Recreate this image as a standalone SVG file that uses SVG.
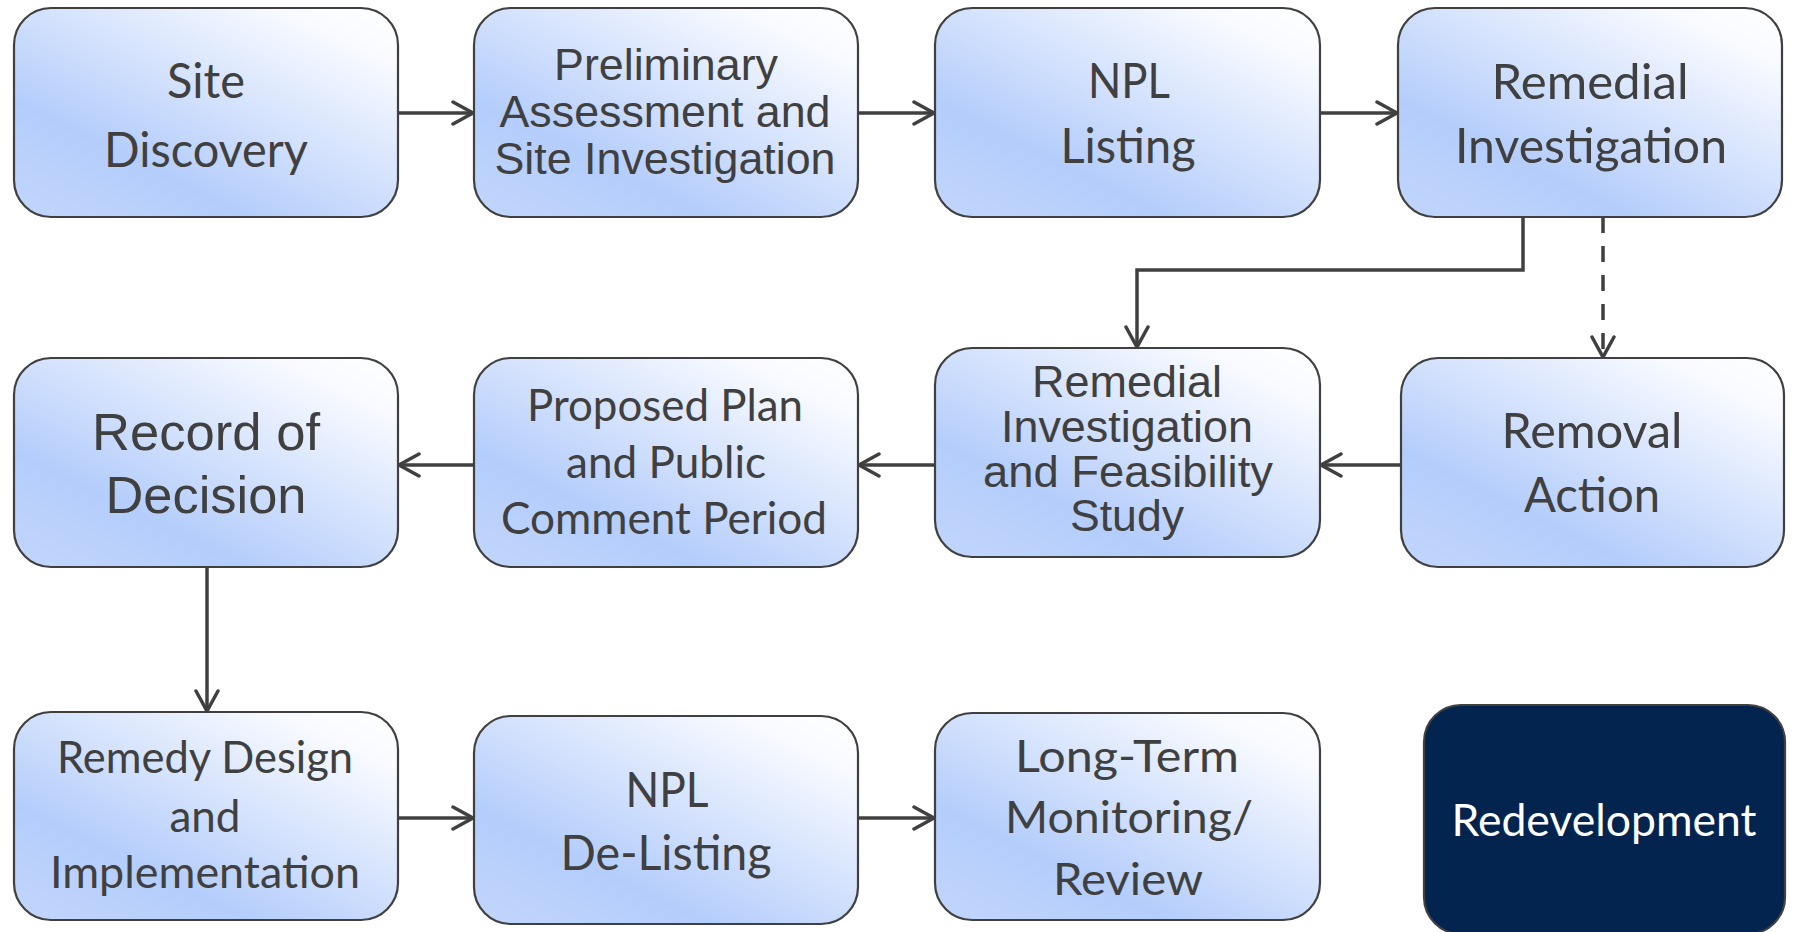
<svg xmlns="http://www.w3.org/2000/svg" width="1793" height="932" viewBox="0 0 1793 932">
  <defs>
    <linearGradient id="boxFill" x1="0.025" y1="1.025" x2="0.982" y2="-0.019">
      <stop offset="0" stop-color="#c2d6fc"/>
      <stop offset="0.29" stop-color="#b4cdfb"/>
      <stop offset="0.55" stop-color="#d4e2fd"/>
      <stop offset="0.85" stop-color="#f8faff"/>
      <stop offset="1" stop-color="#ffffff"/>
    </linearGradient>
    <marker id="chevron" markerUnits="userSpaceOnUse" markerWidth="26" markerHeight="30" viewBox="-2 -15 26 30" refX="20" refY="0" orient="auto">
      <path d="M0,-11 L20,0 L0,11" fill="none" stroke="#404040" stroke-width="3.5" stroke-linecap="round" stroke-linejoin="miter"/>
    </marker>
    <style>
      .box { fill: url(#boxFill); stroke: #404040; stroke-width: 2.2; }
      .dark { fill: #02244f; stroke: #404040; stroke-width: 2.2; }
      .cal { font-family: Lato, "Open Sans", sans-serif; fill: #404040; text-anchor: middle; }
      .ari { font-family: "Liberation Sans", Arial, sans-serif; fill: #404040; text-anchor: middle; }
      .light { fill: #ffffff; }
      .link { fill: none; stroke: #404040; stroke-width: 3.5; marker-end: url(#chevron); }
      .dash { stroke-dasharray: 16 13; }
    </style>
  </defs>

  <rect width="1793" height="932" fill="#ffffff"/>

  <!-- connectors -->
  <g id="connectors">
    <path class="link" d="M398,113 H473"/>
    <path class="link" d="M858,113 H934"/>
    <path class="link" d="M1320,113 H1397"/>
    <path class="link" d="M1523,217 V270 H1137 V347"/>
    <path class="link dash" d="M1603,217 V357"/>
    <path class="link" d="M1401,465 H1321"/>
    <path class="link" d="M935,465 H859"/>
    <path class="link" d="M474,465 H399"/>
    <path class="link" d="M207,567 V711"/>
    <path class="link" d="M398,818 H473"/>
    <path class="link" d="M858,818 H934"/>
  </g>

  <!-- row 1 -->
  <g id="site-discovery">
    <rect class="box" x="14" y="8" width="384" height="209" rx="37"/>
    <text class="cal" font-size="48"><tspan x="206" y="98" textLength="78" lengthAdjust="spacingAndGlyphs">Site</tspan><tspan x="206" y="167" textLength="204" lengthAdjust="spacingAndGlyphs">Discovery</tspan></text>
  </g>
  <g id="preliminary-assessment">
    <rect class="box" x="474" y="8" width="384" height="209" rx="37"/>
    <text class="ari" font-size="45"><tspan x="666" y="80" textLength="224" lengthAdjust="spacingAndGlyphs">Preliminary</tspan><tspan x="665" y="127" textLength="331" lengthAdjust="spacingAndGlyphs">Assessment and</tspan><tspan x="665" y="174" textLength="341" lengthAdjust="spacingAndGlyphs">Site Investigation</tspan></text>
  </g>
  <g id="npl-listing">
    <rect class="box" x="935" y="8" width="385" height="209" rx="37"/>
    <text class="cal" font-size="48"><tspan x="1129" y="98" textLength="82" lengthAdjust="spacingAndGlyphs">NPL</tspan><tspan x="1128" y="163" textLength="135" lengthAdjust="spacingAndGlyphs">Listing</tspan></text>
  </g>
  <g id="remedial-investigation">
    <rect class="box" x="1398" y="8" width="384" height="209" rx="37"/>
    <text class="cal" font-size="48"><tspan x="1590" y="99" textLength="197" lengthAdjust="spacingAndGlyphs">Remedial</tspan><tspan x="1591" y="163" textLength="272" lengthAdjust="spacingAndGlyphs">Investigation</tspan></text>
  </g>

  <!-- row 2 -->
  <g id="record-of-decision">
    <rect class="box" x="14" y="358" width="384" height="209" rx="37"/>
    <text class="ari" font-size="52"><tspan x="206" y="450" textLength="228" lengthAdjust="spacingAndGlyphs">Record of</tspan><tspan x="206" y="513" textLength="201" lengthAdjust="spacingAndGlyphs">Decision</tspan></text>
  </g>
  <g id="proposed-plan">
    <rect class="box" x="474" y="358" width="384" height="209" rx="37"/>
    <text class="cal" font-size="43.5"><tspan x="665" y="421" textLength="276" lengthAdjust="spacingAndGlyphs">Proposed Plan</tspan><tspan x="666" y="478" textLength="200" lengthAdjust="spacingAndGlyphs">and Public</tspan><tspan x="664" y="534" textLength="326" lengthAdjust="spacingAndGlyphs">Comment Period</tspan></text>
  </g>
  <g id="ri-fs">
    <rect class="box" x="935" y="348" width="385" height="209" rx="37"/>
    <text class="ari" font-size="45"><tspan x="1127" y="397" textLength="190" lengthAdjust="spacingAndGlyphs">Remedial</tspan><tspan x="1127" y="442" textLength="252" lengthAdjust="spacingAndGlyphs">Investigation</tspan><tspan x="1128" y="487" textLength="290" lengthAdjust="spacingAndGlyphs">and Feasibility</tspan><tspan x="1127" y="531" textLength="114" lengthAdjust="spacingAndGlyphs">Study</tspan></text>
  </g>
  <g id="removal-action">
    <rect class="box" x="1401" y="358" width="383" height="209" rx="37"/>
    <text class="cal" font-size="48"><tspan x="1592" y="448" textLength="181" lengthAdjust="spacingAndGlyphs">Removal</tspan><tspan x="1592" y="512" textLength="136" lengthAdjust="spacingAndGlyphs">Action</tspan></text>
  </g>

  <!-- row 3 -->
  <g id="remedy-design">
    <rect class="box" x="14" y="712" width="384" height="208" rx="37"/>
    <text class="cal" font-size="43.5"><tspan x="205" y="773" textLength="296" lengthAdjust="spacingAndGlyphs">Remedy Design</tspan><tspan x="205" y="832" textLength="71" lengthAdjust="spacingAndGlyphs">and</tspan><tspan x="205" y="888" textLength="310" lengthAdjust="spacingAndGlyphs">Implementation</tspan></text>
  </g>
  <g id="npl-delisting">
    <rect class="box" x="474" y="716" width="384" height="208" rx="37"/>
    <text class="cal" font-size="48"><tspan x="667" y="807" textLength="83" lengthAdjust="spacingAndGlyphs">NPL</tspan><tspan x="666" y="870" textLength="211" lengthAdjust="spacingAndGlyphs">De-Listing</tspan></text>
  </g>
  <g id="long-term-monitoring">
    <rect class="box" x="935" y="713" width="385" height="207" rx="37"/>
    <text class="cal" font-size="43.5"><tspan x="1127" y="772" textLength="224" lengthAdjust="spacingAndGlyphs">Long-Term</tspan><tspan x="1129" y="833" textLength="248" lengthAdjust="spacingAndGlyphs">Monitoring/</tspan><tspan x="1128" y="895" textLength="150" lengthAdjust="spacingAndGlyphs">Review</tspan></text>
  </g>
  <g id="redevelopment">
    <rect class="dark" x="1424" y="705" width="361" height="229" rx="37"/>
    <text class="cal light" font-size="43.5"><tspan x="1604" y="836" textLength="305" lengthAdjust="spacingAndGlyphs">Redevelopment</tspan></text>
  </g>
</svg>
